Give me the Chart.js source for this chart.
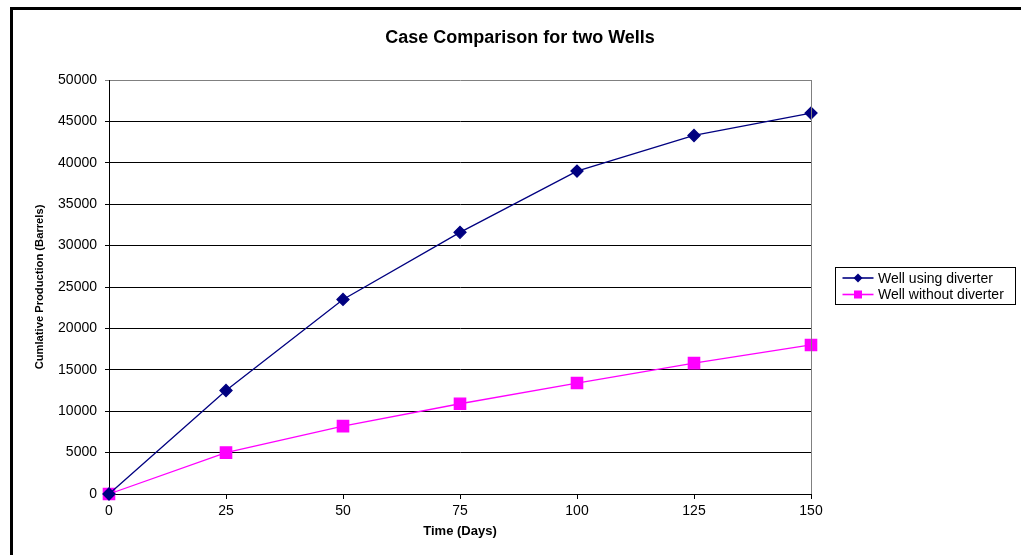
<!DOCTYPE html>
<html lang="en">
<head>
    <meta charset="UTF-8">
    <title>Case Comparison for two Wells</title>
    <script src="https://cdn.jsdelivr.net/npm/chart.js"></script>
    <style>
        html, body { margin: 0; padding: 0; background: #fff; }
        #wrap { width: 1021px; height: 555px; position: relative; }
    </style>
</head>
<body>
<div id="wrap"><canvas id="wellChart" width="1021" height="555"></canvas></div>
<script>
    const days = [0, 25, 50, 75, 100, 125, 150];
    const withDiverter = [0, 12500, 23500, 31600, 39000, 43300, 46000];
    const withoutDiverter = [0, 5000, 8200, 10900, 13400, 15800, 18000];
    const seriesNames = ['Well using diverter', 'Well without diverter'];
    const chartTitle = 'Case Comparison for two Wells';

    const FONT = 'Arial, "Liberation Sans", sans-serif';

    // frame, title, right border of the plot and the boxed legend
    const decorations = {
        id: 'decorations',
        afterDraw(chart) {
            const ctx = chart.ctx;
            const area = chart.chartArea;
            ctx.save();

            ctx.strokeStyle = '#000';
            ctx.lineWidth = 3;
            ctx.beginPath();
            ctx.moveTo(11.5, chart.height + 5);
            ctx.lineTo(11.5, 8.5);
            ctx.lineTo(chart.width + 5, 8.5);
            ctx.stroke();

            ctx.strokeStyle = '#808080';
            ctx.lineWidth = 1;
            ctx.beginPath();
            ctx.moveTo(Math.round(area.right) + 0.5, area.top);
            ctx.lineTo(Math.round(area.right) + 0.5, area.bottom);
            ctx.stroke();

            ctx.fillStyle = '#000';
            ctx.font = 'bold 18px ' + FONT;
            ctx.textAlign = 'center';
            ctx.textBaseline = 'middle';
            ctx.fillText(chartTitle, 520, 38);

            // legend
            const lx = 835.5, ly = 267.5, lw = 180, lh = 37;
            ctx.strokeStyle = '#000';
            ctx.lineWidth = 1;
            ctx.strokeRect(lx, ly, lw, lh);
            ctx.font = '14px ' + FONT;
            ctx.textAlign = 'left';
            chart.data.datasets.forEach((ds, i) => {
                const y = ly + 10.5 + i * 16.5;
                ctx.strokeStyle = ds.borderColor;
                ctx.lineWidth = 1.6;
                ctx.beginPath();
                ctx.moveTo(lx + 7, y);
                ctx.lineTo(lx + 38, y);
                ctx.stroke();
                ctx.fillStyle = ds.pointBackgroundColor;
                const cx = lx + 22.5;
                if (ds.pointStyle === 'rectRot') {
                    ctx.beginPath();
                    ctx.moveTo(cx, y - 4.5);
                    ctx.lineTo(cx + 4.5, y);
                    ctx.lineTo(cx, y + 4.5);
                    ctx.lineTo(cx - 4.5, y);
                    ctx.closePath();
                    ctx.fill();
                } else {
                    ctx.fillRect(cx - 4, y - 4, 8, 8);
                }
                ctx.fillStyle = '#000';
                ctx.fillText(ds.label, lx + 42.5, y + 1);
            });
            ctx.restore();
        }
    };

    const ctx = document.getElementById('wellChart').getContext('2d');
    new Chart(ctx, {
        type: 'line',
        data: {
            datasets: [{
                label: seriesNames[0],
                data: days.map((d, i) => ({ x: d, y: withDiverter[i] })),
                borderColor: '#000080',
                backgroundColor: '#000080',
                pointBackgroundColor: '#000080',
                pointBorderColor: '#000080',
                pointStyle: 'rectRot',
                pointRadius: 6,
                borderWidth: 1.3,
                tension: 0
            }, {
                label: seriesNames[1],
                data: days.map((d, i) => ({ x: d, y: withoutDiverter[i] })),
                borderColor: '#FF00FF',
                backgroundColor: '#FF00FF',
                pointBackgroundColor: '#FF00FF',
                pointBorderColor: '#FF00FF',
                pointStyle: 'rect',
                pointRadius: 8,
                borderWidth: 1.3,
                tension: 0
            }]
        },
        options: {
            responsive: false,
            animation: false,
            clip: false,
            layout: { padding: { left: 0, top: 80, right: 210, bottom: 0 } },
            plugins: {
                legend: { display: false },
                title: { display: false },
                tooltip: { enabled: false }
            },
            scales: {
                x: {
                    type: 'linear',
                    min: 0,
                    max: 150,
                    afterFit: s => { s.height = 61; },
                    afterBuildTicks: s => { s.ticks = days.map(v => ({ value: v })); },
                    ticks: { color: '#000', font: { family: FONT, size: 14 }, padding: 4, maxRotation: 0 },
                    grid: { drawOnChartArea: false, color: '#000', tickLength: 5 },
                    border: { color: '#000', width: 1 },
                    title: {
                        display: true,
                        text: 'Time (Days)',
                        color: '#000',
                        font: { family: FONT, size: 13, weight: 'bold' },
                        padding: { top: 0, bottom: 16 }
                    }
                },
                y: {
                    min: 0,
                    max: 50000,
                    afterFit: s => { s.width = 109; },
                    ticks: {
                        stepSize: 5000,
                        color: '#000',
                        font: { family: FONT, size: 14 },
                        padding: 8,
                        callback: v => String(v)
                    },
                    grid: {
                        color: c => (c.tick && c.tick.value === 50000) ? '#808080' : '#000',
                        tickLength: 4,
                        lineWidth: 1
                    },
                    border: { color: '#000', width: 1 },
                    title: {
                        display: true,
                        text: 'Cumlative Production (Barrels)',
                        color: '#000',
                        font: { family: FONT, size: 11.2, weight: 'bold' },
                        padding: { top: 33, bottom: 0 }
                    }
                }
            }
        },
        plugins: [decorations]
    });
</script>
</body>
</html>
